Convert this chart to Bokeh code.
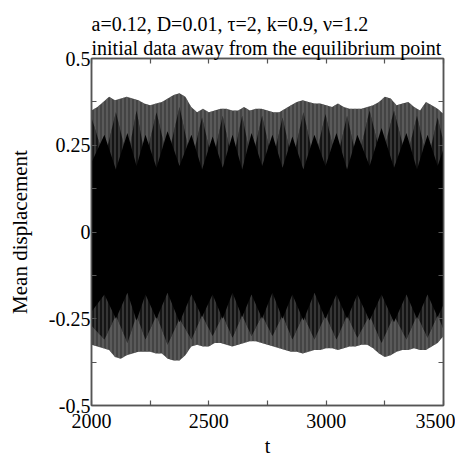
from bokeh.plotting import figure
from bokeh.models import Range1d, LinearAxis, Title, FixedTicker
from bokeh.embed import file_html
from bokeh.resources import INLINE

# ---- data ----
# outer envelope of the fast oscillation, sampled every 25 time units
env_t = list(range(2000, 3501, 25))
env_upper = [0.35, 0.36, 0.375, 0.39, 0.38, 0.385, 0.39, 0.385, 0.38, 0.37,
             0.365, 0.37, 0.375, 0.385, 0.395, 0.40, 0.39, 0.36, 0.345, 0.355,
             0.345, 0.35, 0.355, 0.355, 0.35, 0.35, 0.36, 0.35, 0.355, 0.355,
             0.35, 0.345, 0.345, 0.355, 0.365, 0.375, 0.38, 0.375, 0.37, 0.37,
             0.365, 0.36, 0.37, 0.36, 0.355, 0.355, 0.355, 0.36, 0.365, 0.375,
             0.39, 0.385, 0.365, 0.37, 0.375, 0.36, 0.35, 0.375, 0.365, 0.355,
             0.34]
env_lower = [-0.325, -0.33, -0.335, -0.34, -0.36, -0.365, -0.355, -0.35, -0.345, -0.345,
             -0.345, -0.35, -0.35, -0.365, -0.37, -0.37, -0.355, -0.33, -0.325, -0.33,
             -0.33, -0.32, -0.32, -0.325, -0.33, -0.325, -0.32, -0.315, -0.315, -0.32,
             -0.325, -0.33, -0.335, -0.34, -0.345, -0.345, -0.35, -0.345, -0.34, -0.34,
             -0.335, -0.335, -0.34, -0.335, -0.33, -0.33, -0.325, -0.325, -0.335, -0.35,
             -0.36, -0.355, -0.345, -0.34, -0.34, -0.335, -0.34, -0.34, -0.33, -0.32,
             -0.30]

# beat pattern: alternating nodes of the diamond-shaped modulation
beat_t = [2000, 2055, 2104, 2153, 2192, 2230, 2277, 2324, 2375, 2426, 2471, 2516,
          2559, 2601, 2642, 2682, 2727, 2771, 2814, 2856, 2903, 2950, 2997, 3044,
          3089, 3133, 3185, 3236, 3289, 3342, 3387, 3432, 3475, 3500]
black_upper = [0.20, 0.28, 0.18, 0.285, 0.19, 0.28, 0.185, 0.29, 0.19, 0.28, 0.18, 0.275,
               0.185, 0.28, 0.18, 0.285, 0.19, 0.28, 0.185, 0.275, 0.18, 0.28, 0.19, 0.285,
               0.18, 0.28, 0.19, 0.30, 0.185, 0.285, 0.18, 0.28, 0.19, 0.24]
dark_upper = [0.33, 0.21, 0.345, 0.21, 0.35, 0.21, 0.345, 0.21, 0.36, 0.2, 0.33, 0.2,
              0.335, 0.2, 0.335, 0.2, 0.335, 0.2, 0.33, 0.2, 0.345, 0.2, 0.34, 0.2,
              0.335, 0.2, 0.35, 0.21, 0.35, 0.21, 0.335, 0.2, 0.33, 0.26]
black_lower = [-0.23, -0.18, -0.25, -0.175, -0.255, -0.18, -0.25, -0.175, -0.26, -0.18, -0.245, -0.18,
               -0.25, -0.175, -0.245, -0.18, -0.25, -0.175, -0.25, -0.18, -0.255, -0.175, -0.25, -0.18,
               -0.25, -0.18, -0.255, -0.18, -0.26, -0.18, -0.25, -0.18, -0.245, -0.21]
dark_lower = [-0.27, -0.31, -0.24, -0.32, -0.24, -0.31, -0.24, -0.325, -0.25, -0.31, -0.24, -0.30,
              -0.24, -0.305, -0.24, -0.30, -0.24, -0.30, -0.24, -0.31, -0.24, -0.31, -0.24, -0.31,
              -0.24, -0.305, -0.24, -0.32, -0.24, -0.31, -0.24, -0.305, -0.24, -0.28]

x_ticks = [2000, 2250, 2500, 2750, 3000, 3250, 3500]
x_labels = ["2000", "", "2500", "", "3000", "", "3500"]
y_ticks = [-0.5, -0.375, -0.25, -0.125, 0, 0.125, 0.25, 0.375, 0.5]
y_labels = ["-0.5", "", "-0.25", "", "0", "", "0.25", "", "0.5"]

title1 = "a=0.12, D=0.01, \u03c4=2, k=0.9, \u03bd=1.2"
title2 = "initial data away from the equilibrium point"

FONT = "Liberation Serif"
FRAME = "#555555"

p = figure(width=455, height=459, output_backend="svg", toolbar_location=None,
           x_range=Range1d(2000, 3500), y_range=Range1d(-0.5, 0.5),
           title=None, min_border_left=91, min_border_right=12,
           min_border_top=58, min_border_bottom=51)
p.background_fill_color = "white"
p.border_fill_color = "white"
p.outline_line_color = FRAME
p.outline_line_width = 1.5
p.xgrid.visible = False
p.ygrid.visible = False

# layers of the oscillation band (vertical hatch mimics the fast oscillation)
p.varea(x=env_t, y1=env_lower, y2=env_upper, fill_color="#444444",
        hatch_pattern="|", hatch_color="#707070", hatch_scale=4, hatch_weight=1)
p.varea(x=beat_t, y1=dark_lower, y2=dark_upper, fill_color="#141414",
        hatch_pattern="|", hatch_color="#555555", hatch_scale=4, hatch_weight=1)
p.varea(x=beat_t, y1=black_lower, y2=black_upper, fill_color="#000000")

def style_axis(ax, ticks, labels, show_labels=True):
    ax.ticker = FixedTicker(ticks=ticks, minor_ticks=[])
    ax.major_label_overrides = {t: l for t, l in zip(ticks, labels)} if show_labels else {t: "" for t in ticks}
    ax.axis_line_color = FRAME
    ax.axis_line_width = 1.5
    ax.major_tick_line_color = FRAME
    ax.major_tick_line_width = 1.2
    ax.major_tick_in = 5
    ax.major_tick_out = 0
    ax.minor_tick_line_color = None
    ax.major_label_text_font = FONT
    ax.major_label_text_font_size = "20px" if show_labels else "0px"
    ax.major_label_text_color = "black"
    ax.major_label_standoff = 2 if show_labels else 0

style_axis(p.xaxis[0], x_ticks, x_labels)
style_axis(p.yaxis[0], y_ticks, y_labels)
p.xaxis[0].major_label_standoff = 8
p.yaxis[0].major_label_standoff = 1
p.xaxis[0].axis_label = "t"
p.yaxis[0].axis_label = "Mean displacement"
for ax in (p.xaxis[0], p.yaxis[0]):
    ax.axis_label_text_font = FONT
    ax.axis_label_text_font_style = "normal"
    ax.axis_label_text_color = "black"
p.xaxis[0].axis_label_text_font_size = "20px"
p.xaxis[0].axis_label_standoff = 4
p.yaxis[0].axis_label_text_font_size = "21px"
p.yaxis[0].axis_label_standoff = 14

top_ax = LinearAxis()
right_ax = LinearAxis()
style_axis(top_ax, x_ticks, x_labels, show_labels=False)
style_axis(right_ax, y_ticks, y_labels, show_labels=False)
p.add_layout(top_ax, "above")
p.add_layout(right_ax, "right")

for txt in (title2, title1):
    p.add_layout(Title(text=txt, align="left", text_font=FONT, text_font_size="20px",
                       text_font_style="normal", text_color="black", standoff=0,
                       offset=0), "above")

open("out.html", "w").write(file_html(p, INLINE))
